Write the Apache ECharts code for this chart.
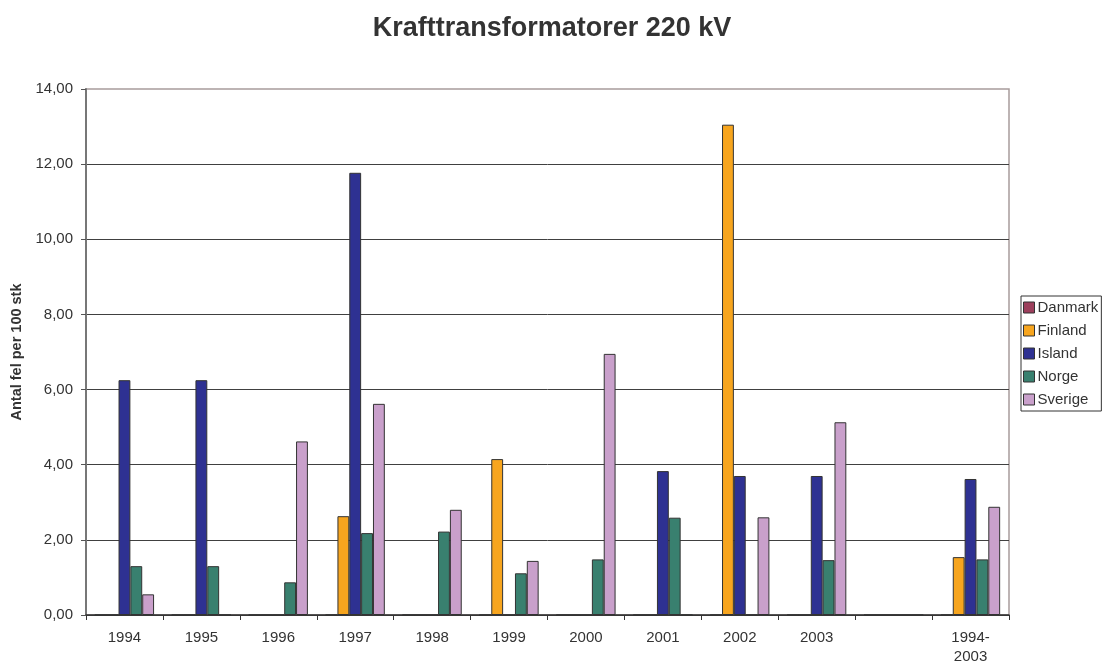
<!DOCTYPE html>
<html>
<head>
<meta charset="utf-8">
<script src="https://cdn.jsdelivr.net/npm/echarts@6/dist/echarts.min.js"></script>
<style>
  html, body { margin: 0; padding: 0; background: #fff; }
  #container { width: 1106px; height: 664px; }
</style>
</head>
<body>
<div id="container"></div>
<script>
'use strict';

let categories = ['1994', '1995', '1996', '1997', '1998', '1999', '2000', '2001', '2002', '2003', '', '1994-\n2003'];
let seriesNames = ['Danmark', 'Finland', 'Island', 'Norge', 'Sverige'];
let danmark = [0, 0, 0, 0, 0, 0, 0, 0, 0, 0, 0, 0];
let finland = [0, 0, 0, 2.63, 0, 4.15, 0, 0, 13.05, 0, 0, 1.54];
let island = [6.25, 6.25, 0, 11.77, 0, 0, 0, 3.83, 3.70, 3.70, 0, 3.62];
let norge = [1.30, 1.30, 0.87, 2.18, 2.22, 1.11, 1.48, 2.59, 0, 1.46, 0, 1.48];
let sverige = [0.55, 0, 4.62, 5.62, 2.80, 1.44, 6.95, 0, 2.60, 5.13, 0, 2.88];
let colors = ['#9c3f5c', '#f7a51e', '#2e3192', '#39806f', '#c9a0cb'];

let FONT = '"Liberation Sans", Arial, sans-serif';

function makeSeries(name, data, color) {
  return {
    name: name,
    type: 'bar',
    data: data,
    barGap: '0%',
    barCategoryGap: '23%',
    animation: false,
    itemStyle: {
      color: color,
      borderColor: '#333',
      borderWidth: 1
    }
  };
}

var dom = document.getElementById('container');
var myChart = echarts.init(dom);

myChart.setOption({
  backgroundColor: '#fff',
  title: {
    text: 'Krafttransformatorer 220 kV',
    left: 547,
    textAlign: 'center',
    top: 10,
    textStyle: {
      fontFamily: FONT,
      fontSize: 27,
      fontWeight: 'bold',
      color: '#333'
    }
  },
  legend: {
    orient: 'vertical',
    left: 1021,
    top: 296,
    data: seriesNames,
    icon: 'rect',
    itemWidth: 11,
    itemHeight: 11,
    itemGap: 8,
    padding: [4, 3, 4, 2],
    borderColor: '#333',
    borderWidth: 1,
    textStyle: {
      fontFamily: FONT,
      fontSize: 15,
      color: '#333',
      padding: [0, 0, 0, -2]
    },
    itemStyle: {
      borderColor: '#333',
      borderWidth: 1
    }
  },
  grid: {
    left: 86,
    right: 97,
    top: 89,
    bottom: 49,
    outerBoundsMode: 'none',
    containLabel: false,
    show: true,
    borderColor: '#a89c9c',
    borderWidth: 1.5
  },
  xAxis: {
    type: 'category',
    data: categories,
    axisLine: { lineStyle: { color: '#333', width: 1.5 } },
    axisTick: { show: true, alignWithLabel: false, length: 5, lineStyle: { color: '#333' } },
    axisLabel: {
      margin: 13,
      fontFamily: FONT,
      fontSize: 15,
      color: '#333',
      lineHeight: 19,
      interval: 0
    }
  },
  yAxis: {
    type: 'value',
    min: 0,
    max: 14,
    interval: 2,
    name: 'Antal fel per 100 stk',
    nameLocation: 'middle',
    nameGap: 61,
    nameTextStyle: {
      fontFamily: FONT,
      fontSize: 14.5,
      fontWeight: 'bold',
      color: '#333'
    },
    axisLine: { show: true, lineStyle: { color: '#777', width: 2 } },
    axisTick: { show: true, length: 5, lineStyle: { color: '#555' } },
    splitLine: { showMaxLine: false, lineStyle: { color: '#404040', width: 1 } },
    axisLabel: {
      margin: 13,
      fontFamily: FONT,
      fontSize: 15,
      color: '#333',
      formatter: function(v) { return v.toFixed(2).replace('.', ','); }
    }
  },
  series: [
    makeSeries(seriesNames[0], danmark, colors[0]),
    makeSeries(seriesNames[1], finland, colors[1]),
    makeSeries(seriesNames[2], island, colors[2]),
    makeSeries(seriesNames[3], norge, colors[3]),
    makeSeries(seriesNames[4], sverige, colors[4])
  ]
});
</script>
</body>
</html>
